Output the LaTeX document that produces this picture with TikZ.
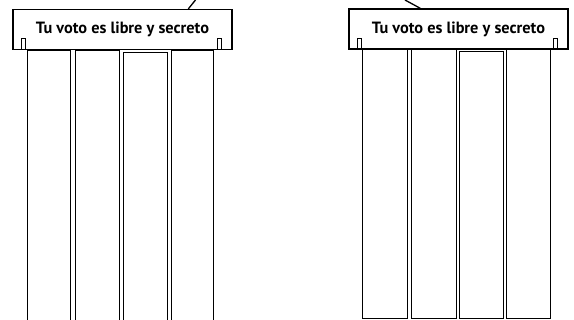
\documentclass[tikz,border=0pt]{standalone}
\usepackage{fontspec}
\setmainfont{PT Sans}
\usetikzlibrary{positioning}

\begin{document}
\begin{tikzpicture}[x=1pt,y=-1pt,line width=1.3pt,
        sign/.style={draw,rectangle,minimum width=219pt,minimum height=40pt,inner sep=0pt,
            font=\bfseries\fontsize{16.3}{17}\selectfont},
        tab/.style={draw,rectangle,minimum width=4pt,minimum height=11pt,inner sep=0pt,line width=0.9pt},
        slot/.style={draw,rectangle,inner sep=0pt}]
        \useasboundingbox (0,0) rectangle (574,320);
        % left ballot box
        \node[sign]   (signL)   at (122.5,29.5)    {Tu voto es libre y secreto};
        \node[tab, above right=0pt and 9pt of signL.south west, anchor=south west]  (tabLa) {};
        \node[tab, above left=0pt and 11pt of signL.south east, anchor=south east]  (tabLb) {};
        \node[slot, minimum width=43pt, minimum height=280pt, anchor=north west] (colL1) at (27,50) {};
        \node[slot, minimum width=44pt, minimum height=280pt, anchor=north west] (colL2) at (75,50) {};
        \node[slot, minimum width=44pt, minimum height=278pt, anchor=north west] (colL3) at (123,52) {};
        \node[slot, minimum width=42pt, minimum height=280pt, anchor=north west] (colL4) at (171,50) {};
        \coordinate (hookL) at (195.5,0);
        \draw (signL.north west) ++(176,0) -- (hookL);
        % right ballot box
        \node[sign]   (signR)   at (458.5,29)      {Tu voto es libre y secreto};
        \node[tab, above right=0pt and 9pt of signR.south west, anchor=south west]  (tabRa) {};
        \node[tab, above left=0pt and 11pt of signR.south east, anchor=south east]  (tabRb) {};
        \node[slot, minimum width=45pt, minimum height=269pt, anchor=north west] (colR1) at (362,49) {};
        \node[slot, minimum width=45pt, minimum height=269pt, anchor=north west] (colR2) at (411,49) {};
        \node[slot, minimum width=44pt, minimum height=267pt, anchor=north west] (colR3) at (459,51) {};
        \node[slot, minimum width=44pt, minimum height=269pt, anchor=north west] (colR4) at (506,49) {};
        \coordinate (hookR) at (405,0);
        \draw (signR.north west) ++(72,0) -- (hookR);
\end{tikzpicture}
\end{document}
